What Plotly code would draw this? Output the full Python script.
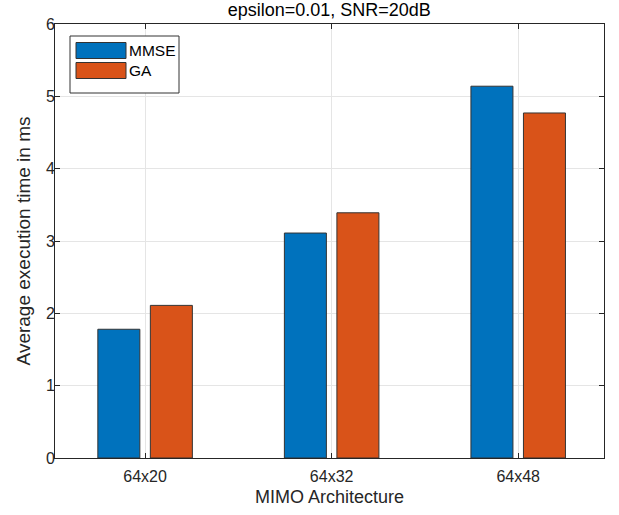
import plotly.graph_objects as go

categories = ["64x20", "64x32", "64x48"]
positions = [1, 2, 3]
mmse = [1.78, 3.11, 5.14]
ga = [2.11, 3.39, 4.77]
yticks = [0, 1, 2, 3, 4, 5, 6]

BLUE = "#0072BD"
ORANGE = "#D95319"
AX = "#262626"
FONT = "Liberation Sans, Arial, sans-serif"

fig = go.Figure()
fig.add_trace(go.Bar(x=positions, y=mmse, name="MMSE", marker=dict(color=BLUE, line=dict(color="#333333", width=1))))
fig.add_trace(go.Bar(x=positions, y=ga, name="GA", marker=dict(color=ORANGE, line=dict(color="#333333", width=1))))

fig.update_layout(
    width=619, height=515,
    margin=dict(l=55, r=15, t=24, b=57),
    paper_bgcolor="white", plot_bgcolor="white",
    barmode="group", bargap=0.437, bargroupgap=0.2,
    showlegend=False,
    font=dict(family=FONT, color=AX, size=16),
    title=dict(text="epsilon=0.01, SNR=20dB", x=0.532, xanchor="center", y=0.981, yanchor="middle",
               font=dict(size=18, color="#000000", family=FONT)),
    xaxis=dict(range=[0.517, 3.46], tickvals=positions, ticktext=categories, automargin=False,
               showgrid=True, gridcolor="#e5e5e5", gridwidth=1,
               showline=True, linecolor=AX, linewidth=1, mirror="allticks",
               ticks="inside", ticklen=5, tickcolor=AX, zeroline=False,
               tickfont=dict(size=16, color=AX), ticklabelstandoff=4,
               title=dict(text="MIMO Architecture", font=dict(size=18, color=AX), standoff=6)),
    yaxis=dict(range=[0, 6], tickvals=yticks, showgrid=True, gridcolor="#e5e5e5", gridwidth=1,
               automargin=False,
               showline=True, linecolor=AX, linewidth=1, mirror="allticks",
               ticks="inside", ticklen=5, tickcolor=AX, zeroline=False,
               tickfont=dict(size=16, color=AX), ticklabelstandoff=-4,
               title=dict(text="Average execution time in ms", font=dict(size=19, color=AX), standoff=10)),
)

# Custom MATLAB-style legend box
def px_x(p):
    return (p - 55) / (604 - 55)

def px_y(p):
    return (458 - p) / (458 - 24)

fig.add_shape(type="rect", xref="paper", yref="paper",
              x0=px_x(70), x1=px_x(179), y0=px_y(93), y1=px_y(36),
              line=dict(color="#333333", width=1), fillcolor="white", layer="above")
for i, (name, col) in enumerate([("MMSE", BLUE), ("GA", ORANGE)]):
    yc = 50.5 + i * 20
    fig.add_shape(type="rect", xref="paper", yref="paper",
                  x0=px_x(76), x1=px_x(126), y0=px_y(yc + 8), y1=px_y(yc - 8),
                  line=dict(color="#333333", width=1), fillcolor=col, layer="above")
    fig.add_annotation(xref="paper", yref="paper", x=px_x(127), y=px_y(yc), text=name,
                       showarrow=False, xanchor="left", yanchor="middle",
                       font=dict(size=15.5, color="#000000", family=FONT))

fig.write_html("out.html", config={"displayModeBar": False},
               post_script="document.body.style.margin='0';document.body.style.padding='0';")
